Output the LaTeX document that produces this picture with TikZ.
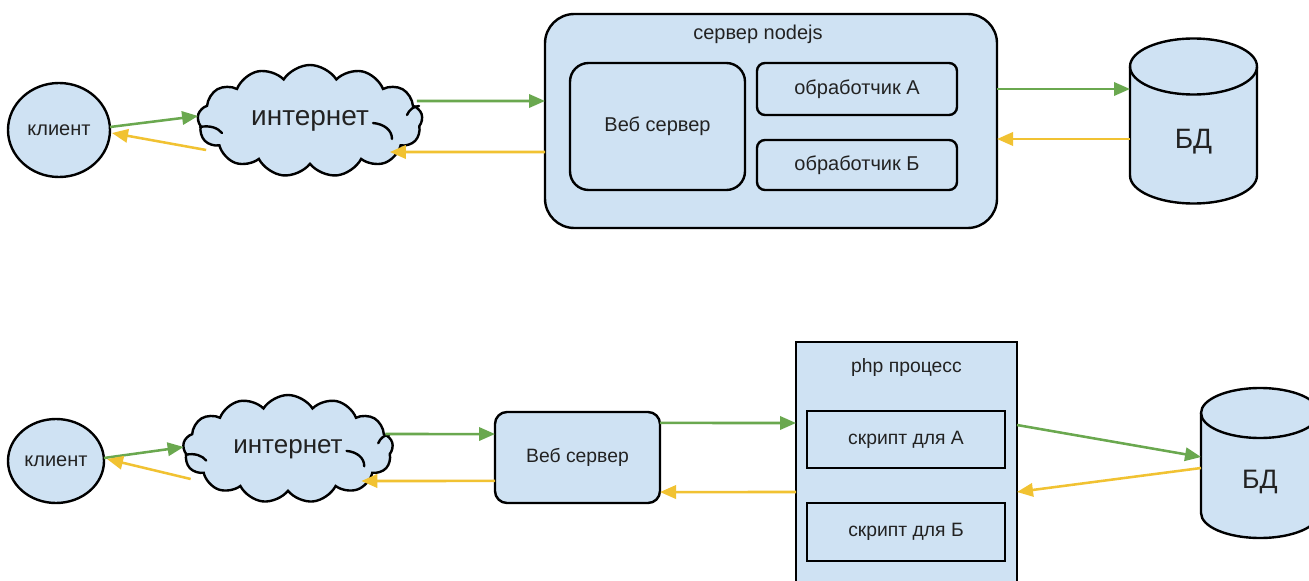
\documentclass[tikz,border=0pt]{standalone}
\usepackage{fontspec}
\setmainfont{Liberation Sans}
\usetikzlibrary{shapes.geometric,shapes.symbols,arrows.meta}
\definecolor{fillb}{HTML}{CFE2F3}
\definecolor{gr}{HTML}{6AA84F}
\definecolor{yl}{HTML}{F1C232}
\definecolor{tx}{HTML}{222222}
\begin{document}
\begin{tikzpicture}[x=0.75pt,y=-0.75pt,
  box/.style={draw=black, line width=1.8pt, fill=fillb, text=tx, inner sep=0pt, outer sep=0pt, align=center},
  small/.style={font=\fontsize{15}{18}\selectfont},
  big/.style={font=\fontsize{21}{24}\selectfont},
  client/.style={box, ellipse, small},
  cloudnode/.style={box, cloud, cloud puffs=13, cloud puff arc=115, cloud ignores aspect, big},
  curl/.style={draw=black, line width=1.8pt, line cap=round},
  rbox/.style={box, rectangle, rounded corners=#1, small},
  sbox/.style={box, rectangle, small},
  dbnode/.style={draw=none, rectangle, inner sep=0pt, outer sep=0pt},
  dbtext/.style={text=tx, inner sep=0pt, font=\fontsize{21}{24}\selectfont},
  lbl/.style={text=tx, inner sep=0pt, small},
  cyl/.style={draw=black, line width=1.8pt, fill=fillb},
  garrow/.style={draw=gr, line width=1.9pt, -{Triangle[length=12pt,width=10pt]}},
  yarrow/.style={draw=yl, line width=1.9pt, -{Triangle[length=12pt,width=10pt]}}]
\clip (0,0) rectangle (1309,581);
\fill[white] (0,0) rectangle (1309,581);

% ---------- top diagram ----------
\node[client, minimum width=76.5pt, minimum height=70.5pt] (cl1) at (59,130) {клиент};
\node[cloudnode, minimum width=168.75pt, minimum height=84pt] (cloud1) at (310,121) {интернет};
\begin{scope}[shift={(cloud1.center)}]
  \draw[curl] (-110,6) .. controls (-100,4) and (-92,7) .. (-88,12);
  \draw[curl] (63,2) .. controls (74,3) and (82,9) .. (82,18);
  \draw[curl] (109,-15) .. controls (104,-15) and (99,-11) .. (97,-6);
\end{scope}
\node[rbox=22pt, minimum width=339pt, minimum height=160.5pt] (srv1) at (771,121) {};
\node[lbl] (srv1lbl) at ([xshift=-9.75pt,yshift=-15pt]srv1.north) {сервер nodejs};
\node[rbox=14pt, minimum width=131.25pt, minimum height=95.25pt] (web1) at (657.5,126.5) {Веб сервер};
\node[rbox=6pt, minimum width=150pt, minimum height=39pt] (hA) at (857,89) {обработчик А};
\node[rbox=6pt, minimum width=150pt, minimum height=37.5pt] (hB) at (857,165) {обработчик Б};
\node[dbnode, minimum width=95.25pt, minimum height=123.75pt] (db1) at (1193.5,121) {};
\draw[cyl] ([yshift=-21pt]db1.north west) -- ([yshift=21pt]db1.south west)
  arc[start angle=180, end angle=360, x radius=47.625pt, y radius=21pt]
  -- ([yshift=-21pt]db1.north east)
  arc[start angle=0, end angle=180, x radius=47.625pt, y radius=21pt] -- cycle;
\draw[line width=1.8pt] ([yshift=-21pt]db1.north west)
  arc[start angle=180, end angle=360, x radius=47.625pt, y radius=21pt];
\node[dbtext] (db1t) at ([yshift=-15.5pt]db1.center) {БД};

\draw[garrow] ([yshift=2.25pt]cl1.east) -- ([yshift=3.75pt]cloud1.west);
\draw[yarrow] ([xshift=6pt,yshift=-21.75pt]cloud1.west) -- ([xshift=1.5pt,yshift=-2.25pt]cl1.east);
\draw[garrow] ([xshift=-3.75pt,yshift=15pt]cloud1.east) -- ([yshift=15pt]srv1.west);
\draw[yarrow] ([yshift=-23.25pt]srv1.west) -- ([xshift=-24pt,yshift=-23.25pt]cloud1.east);
\draw[garrow] ([yshift=24pt]srv1.east) -- ([yshift=24pt]db1.west);
\draw[yarrow] ([yshift=-13.5pt]db1.west) -- ([yshift=-13.5pt]srv1.east);

% ---------- bottom diagram ----------
\node[client, minimum width=72pt, minimum height=63pt] (cl2) at (56,461) {клиент};
\node[cloudnode, minimum width=157.5pt, minimum height=81pt, font=\fontsize{19.5}{22}\selectfont] (cloud2) at (288,449) {интернет};
\begin{scope}[shift={(cloud2.center)}, xscale=0.93, yscale=0.96]
  \draw[curl] (-110,6) .. controls (-100,4) and (-92,7) .. (-88,12);
  \draw[curl] (63,2) .. controls (74,3) and (82,9) .. (82,18);
  \draw[curl] (109,-15) .. controls (104,-15) and (99,-11) .. (97,-6);
\end{scope}
\node[rbox=9pt, minimum width=123.75pt, minimum height=68.25pt, font=\fontsize{14.5}{17}\selectfont] (web2) at (577.5,457.5) {Веб сервер};
\node[sbox, minimum width=165.75pt, minimum height=193.5pt] (php) at (906.5,471) {};
\node[lbl, font=\fontsize{14.5}{17}\selectfont] (phplbl) at ([yshift=-18.75pt]php.north) {php процесс};
\node[sbox, minimum width=148.5pt, minimum height=42.75pt, font=\fontsize{14.5}{17}\selectfont] (sA) at (906,439.5) {скрипт для А};
\node[sbox, minimum width=148.5pt, minimum height=43.5pt, font=\fontsize{14.5}{17}\selectfont] (sB) at (906,532) {скрипт для Б};
\node[dbnode, minimum width=88.5pt, minimum height=112.5pt] (db2) at (1260,463) {};
\draw[cyl] ([yshift=-18.75pt]db2.north west) -- ([yshift=18.75pt]db2.south west)
  arc[start angle=180, end angle=360, x radius=44.25pt, y radius=18.75pt]
  -- ([yshift=-18.75pt]db2.north east)
  arc[start angle=0, end angle=180, x radius=44.25pt, y radius=18.75pt] -- cycle;
\draw[line width=1.8pt] ([yshift=-18.75pt]db2.north west)
  arc[start angle=180, end angle=360, x radius=44.25pt, y radius=18.75pt];
\node[dbtext, font=\fontsize{20}{23}\selectfont] (db2t) at ([yshift=-14.25pt]db2.center) {БД};

\draw[garrow] ([yshift=2.25pt]cl2.east) -- ([yshift=1.5pt]cloud2.west);
\draw[yarrow] ([xshift=5.25pt,yshift=-22.5pt]cloud2.west) -- ([xshift=2.25pt,yshift=1.5pt]cl2.east);
\draw[garrow] ([xshift=-5.25pt,yshift=11.25pt]cloud2.east) -- ([yshift=17.6pt]web2.west);
\draw[yarrow] ([yshift=-17.6pt]web2.west) -- ([xshift=-23.25pt,yshift=-24pt]cloud2.east);
\draw[garrow] ([yshift=25.9pt]web2.east) -- ([yshift=36pt]php.west);
\draw[yarrow] ([yshift=-15.75pt]php.west) -- ([yshift=-25.9pt]web2.east);
\draw[garrow] ([yshift=34.5pt]php.east) -- ([yshift=4.5pt]db2.west);
\draw[yarrow] ([yshift=-3.75pt]db2.west) -- ([yshift=-15.75pt]php.east);
\end{tikzpicture}
\end{document}
